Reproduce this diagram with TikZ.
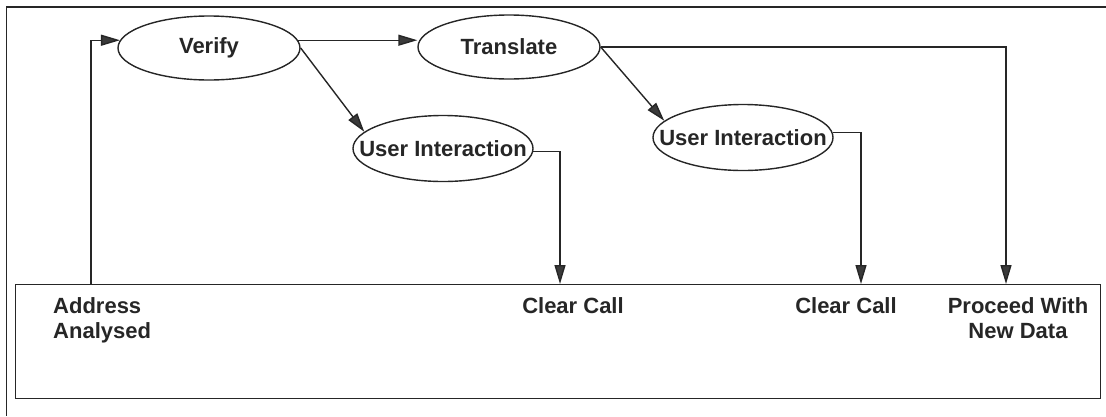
\documentclass[tikz,border=0pt]{standalone}
\usepackage{fontspec}
\setmainfont{Liberation Sans}
\usetikzlibrary{shapes.geometric,arrows.meta}
\definecolor{ink}{HTML}{262626}
\definecolor{tip}{HTML}{3A3A3A}
\begin{document}
\begin{tikzpicture}[x=1pt,y=-1pt,
  line/.style={draw=ink, line width=1.4pt},
  arr/.style={line, -{Triangle[length=19pt,width=11pt,fill=tip]}},
  oval/.style={ellipse, draw=ink, line width=1.4pt, minimum width=182pt,
    minimum height=64pt, inner sep=0pt},
  lbl/.style={font=\fontsize{22}{25}\selectfont\bfseries, text=ink, inner sep=0pt},
]
\useasboundingbox (0,0) rectangle (1106,416);
% outer frame (open to the right and bottom)
\draw[line] (1106,7) -- (6.5,7) -- (6.5,416);

% states
\node[oval, label={[lbl]center:Verify}] (verify) at (209,48) {};
\node[oval, label={[lbl]center:Translate}] (translate) at (509,47) {};
\node[oval, minimum width=180pt, minimum height=66pt,
      label={[lbl]center:User Interaction}] (ui1) at (443,148.5) {};
\node[oval, minimum width=180pt, minimum height=66pt,
      label={[lbl]center:User Interaction}] (ui2) at (743,137.5) {};

% outcome panel
\node[draw=ink, line width=1.4pt, minimum width=1085pt, minimum height=114pt,
      anchor=north west, inner sep=0pt] (panel) at (15,284) {};
\node[lbl, anchor=base west] (addr) at (53,313)
  {\begin{tabular}[t]{@{}l@{}}Address\\Analysed\end{tabular}};
\node[lbl, anchor=base] (clr1) at (573,313) {Clear Call};
\node[lbl, anchor=base] (clr2) at (846,313) {Clear Call};
\node[lbl, anchor=base] (proc) at (1018,313)
  {\begin{tabular}[t]{@{}c@{}}Proceed With\\New Data\end{tabular}};

% entry points on the panel
\coordinate (aout) at (91,284);
\coordinate (in1) at (560,284);
\coordinate (in2) at (861,284);
\coordinate (in3) at (1006,284);

% transitions
\draw[arr] (aout) |- (verify.175);
\draw[arr] (verify.5) -- (verify.5 -| translate.west);
\draw[arr] (verify.east) -- (ui1.168);
\draw[arr] (translate.east) -- (ui2.168);
\draw[arr] (translate.east) -| (in3);
\draw[arr] (ui1.-2) -| (in1);
\draw[arr] (ui2.3) -| (in2);
\end{tikzpicture}
\end{document}
